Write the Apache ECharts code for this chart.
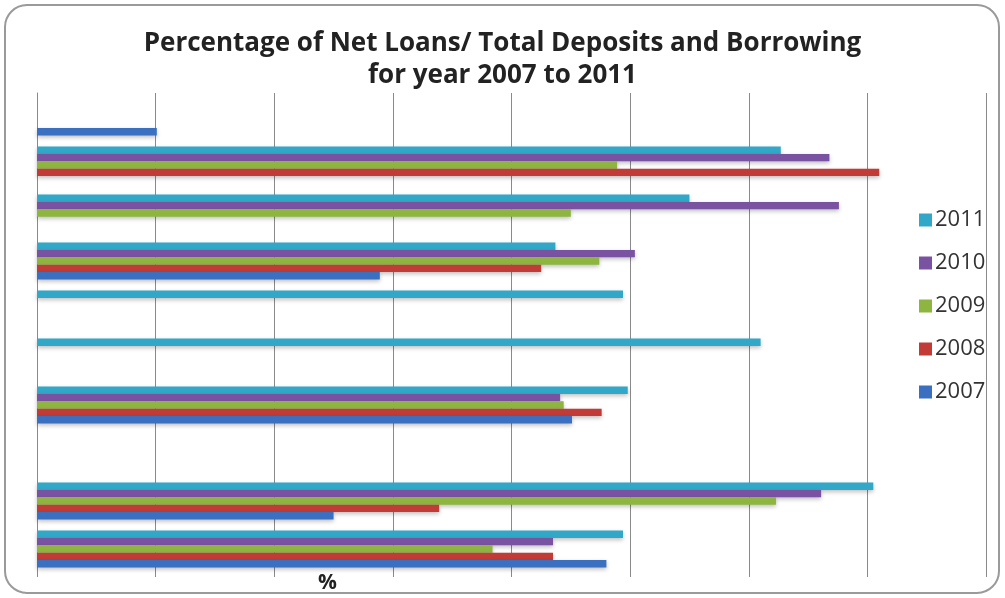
<!DOCTYPE html>
<html>
<head>
<meta charset="utf-8">
<title>Net Loans / Total Deposits and Borrowing</title>
<script src="https://cdn.jsdelivr.net/npm/echarts@6/dist/echarts.min.js"></script>
<style>
    html, body { margin: 0; padding: 0; background: #fff; }
    #chart { width: 1005px; height: 598px; }
</style>
</head>
<body>
<div id="chart"></div>
<script>
    // categories, bottom to top (labels are not shown on the original)
    const categories = ['C1', 'C2', 'C3', 'C4', 'C5', 'C6', 'C7', 'C8', 'C9', 'C10'];
    // first series is drawn at the top of each group
    const years = ['2011', '2010', '2009', '2008', '2007'];

    // values per year, same order as categories (null = no bar)
    const y2011 = [49.4, 70.5, null, 49.8, 61.0, 49.4, 43.7, 55.0, 62.7, null];
    const y2010 = [43.5, 66.1, null, 44.1, null, null, 50.4, 67.6, 66.8, null];
    const y2009 = [38.4, 62.3, null, 44.4, null, null, 47.4, 45.0, 48.9, null];
    const y2008 = [43.5, 33.9, null, 47.6, null, null, 42.5, null, 71.0, null];
    const y2007 = [48.0, 25.0, null, 45.1, null, null, 28.9, null, null, 10.1];

    const xTicks = { min: 0, max: 80, interval: 10 };

    const seriesValues = [y2011, y2010, y2009, y2008, y2007];
    const colors = ['#31a8c8', '#7a52a2', '#8db53f', '#c23b36', '#3b6fbf'];

    const chart = echarts.init(document.getElementById('chart'));

    chart.setOption({
        animation: false,
        title: {
            text: 'Percentage of Net Loans/ Total Deposits and Borrowing\nfor year 2007 to 2011',
            left: 'center',
            top: 23,
            textStyle: {
                fontFamily: 'Open Sans',
                fontWeight: 'bold',
                fontSize: 26,
                lineHeight: 32,
                color: '#222',
            },
        },
        legend: {
            data: years,
            orient: 'vertical',
            left: 914,
            top: 204,
            itemWidth: 13,
            itemHeight: 13,
            itemGap: 21,
            icon: 'rect',
            textStyle: {
                fontFamily: 'Open Sans',
                fontSize: 22,
                color: '#333',
                padding: [0, 0, 0, -2],
            },
        },
        grid: {
            left: 37,
            right: 19,
            top: 93,
            bottom: 25,
            containLabel: false,
        },
        xAxis: {
            type: 'value',
            min: xTicks.min,
            max: xTicks.max,
            interval: xTicks.interval,
            axisLabel: { show: false },
            axisLine: { show: false },
            axisTick: { show: true, length: 4, lineStyle: { color: '#8a8a8a' } },
            splitLine: { lineStyle: { color: '#8a8a8a', width: 1 } },
        },
        yAxis: {
            type: 'category',
            data: categories,
            axisLabel: { show: false },
            axisTick: { show: false },
            axisLine: { show: true, lineStyle: { color: '#8a8a8a' } },
        },
        graphic: [
            {
                type: 'rect',
                shape: { x: 5, y: 5, width: 994, height: 588, r: 22 },
                style: { fill: 'none', stroke: '#9a9a9a', lineWidth: 2 },
                silent: true,
            },
            {
                type: 'text',
                left: 318,
                top: 573,
                style: {
                    text: '%',
                    font: 'bold 21px "Open Sans"',
                    fill: '#222',
                },
            },
        ],
        series: years.map((year, i) => ({
            name: year,
            type: 'bar',
            data: seriesValues[i],
            barGap: '0%',
            barCategoryGap: '23%',
            itemStyle: {
                color: colors[i],
                shadowBlur: 4,
                shadowOffsetY: 2,
                shadowColor: 'rgba(0,0,0,0.25)',
            },
        })),
    });
</script>
</body>
</html>
